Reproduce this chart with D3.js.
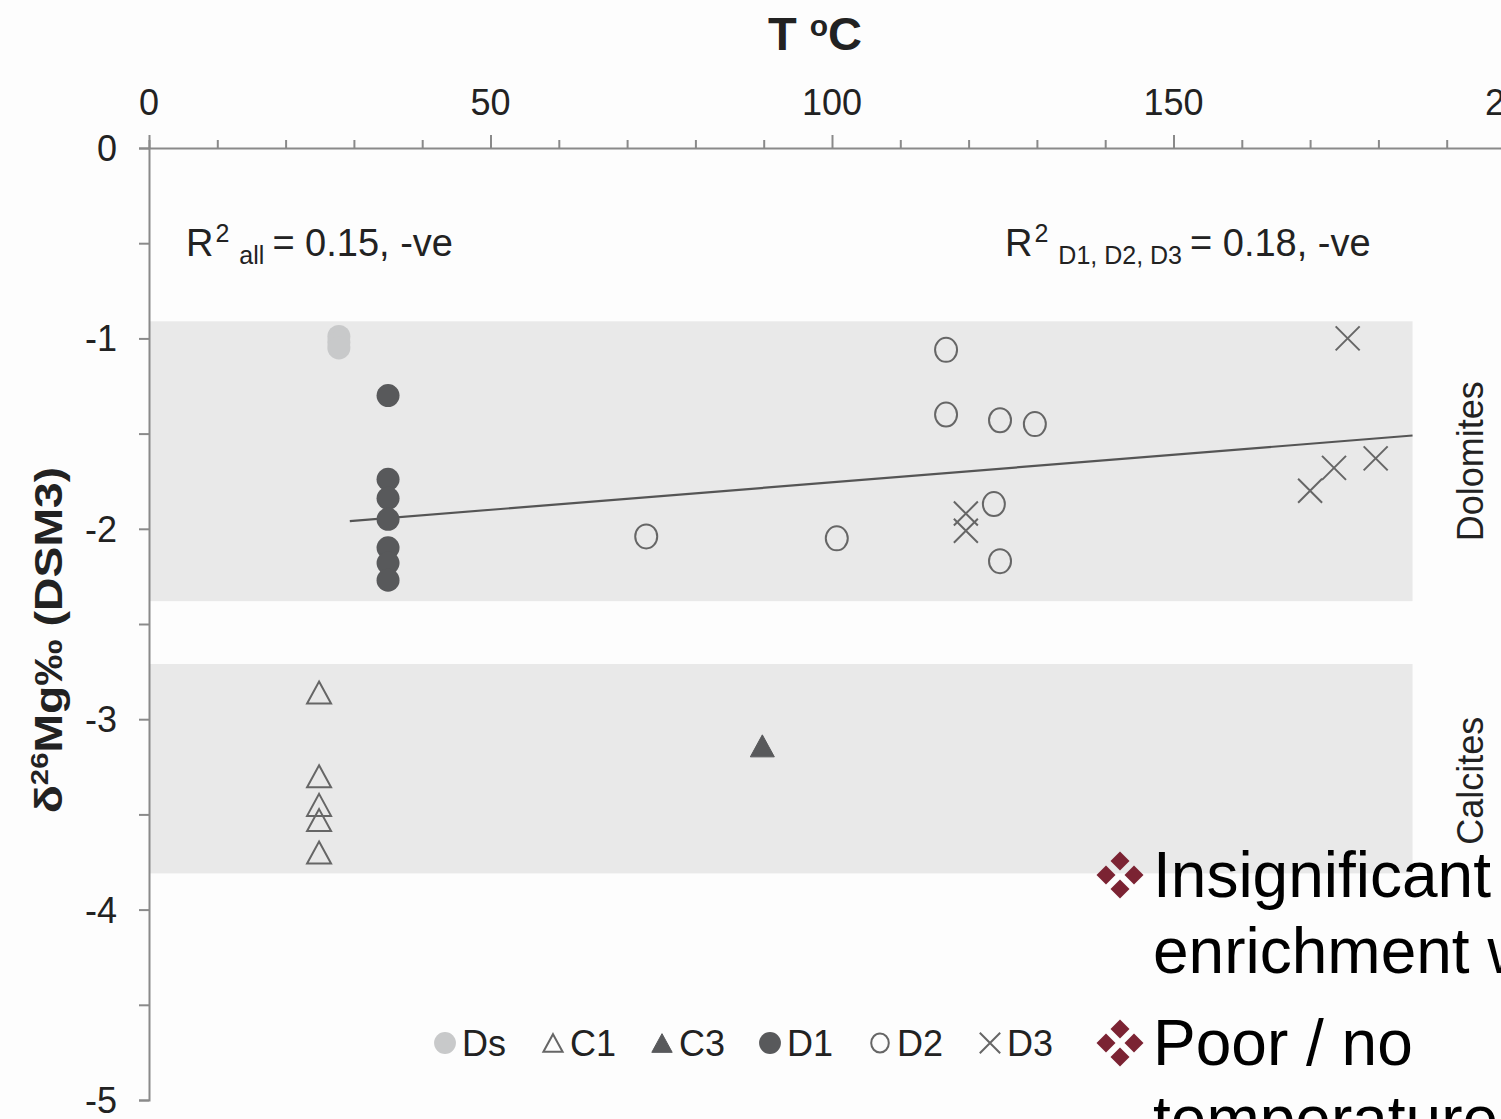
<!DOCTYPE html>
<html lang="en">
<head>
<meta charset="UTF-8">
<title>d26Mg vs temperature</title>
<script src="https://d3js.org/d3.v7.min.js"></script>
<style>
  html, body { margin: 0; padding: 0; background: #fdfdfd; overflow: hidden; }
  svg { display: block; font-family: "Liberation Sans", Arial, sans-serif; }
</style>
</head>
<body>
<script>
// values: [T (°C), d26Mg (permil)]
const dsPoints = [[27.8, -0.99], [27.8, -1.02], [27.8, -1.05]];
const c1Points = [[24.9, -2.86], [24.9, -3.30], [24.9, -3.45], [24.9, -3.53], [24.9, -3.70]];
const c3Points = [[89.8, -3.14]];
const d1Points = [[35, -1.30], [35, -1.74], [35, -1.84], [35, -1.95], [35, -2.10], [35, -2.18], [35, -2.27]];
const d2Points = [[72.8, -2.04], [100.7, -2.05], [116.7, -1.06], [116.7, -1.40], [124.6, -1.43],
                  [129.7, -1.45], [123.7, -1.87], [124.6, -2.17]];
const d3Points = [[175.5, -1.00], [119.6, -1.92], [119.6, -2.01], [170.0, -1.80], [173.5, -1.68], [179.6, -1.63]];

const trendLine = [[29.4, -1.96], [185, -1.51]];

// shaded mineral fields: [T from, T to, top, bottom]
const bandNames = ["Dolomites", "Calcites"];
const bandExtents = [[0, 185, -0.91, -2.38], [0, 185, -2.71, -3.81]];

const legendNames = ["Ds", "C1", "C3", "D1", "D2", "D3"];
const xTicks = [0, 50, 100, 150, 200];
const yTicks = [0, -1, -2, -3, -4, -5];

const W = 1501, H = 1119;
const x = d3.scaleLinear().domain([0, 200]).range([149, 1515]);
const y = d3.scaleLinear().domain([0, -5]).range([148, 1100]);

const svg = d3.select("body").append("svg").attr("width", W).attr("height", H);

const DARK = "#58595b", LIGHT = "#c8c9ca", LINE = "#666";

// bands
svg.append("g").selectAll("rect").data(bandExtents).join("rect")
  .attr("x", d => x(d[0]) + 1)
  .attr("y", d => y(d[2]))
  .attr("width", d => x(d[1]) - x(d[0]) - 1)
  .attr("height", d => y(d[3]) - y(d[2]))
  .attr("fill", "#e9e9e9");

// axes
const xAxis = svg.append("g").attr("transform", `translate(0,${y(0)})`)
  .call(d3.axisTop(x).tickValues(d3.range(0, 201, 10)).tickSize(8).tickFormat(""));
xAxis.selectAll(".tick line").filter(d => d % 50 === 0).attr("y2", -13);
xAxis.selectAll("line, path").attr("stroke", "#8a8a8a").attr("stroke-width", 2);
svg.append("g").selectAll("text").data(xTicks).join("text")
  .attr("x", d => x(d)).attr("y", 115)
  .attr("text-anchor", "middle").attr("font-size", 36).attr("fill", "#222")
  .text(d => d);

const yAxis = svg.append("g").attr("transform", `translate(${x(0)},0)`)
  .call(d3.axisLeft(y).tickValues(d3.range(0, -5.01, -0.5)).tickSize(10).tickFormat(""));
yAxis.selectAll("line, path").attr("stroke", "#8a8a8a").attr("stroke-width", 2);
svg.append("g").selectAll("text").data(yTicks).join("text")
  .attr("x", 117).attr("y", d => y(d) + 13)
  .attr("text-anchor", "end").attr("font-size", 36).attr("fill", "#222")
  .text(d => String(d));

// axis titles
const xt = svg.append("text").attr("x", 815).attr("y", 50).attr("text-anchor", "middle")
  .attr("font-size", 47).attr("font-weight", "bold").attr("fill", "#222");
xt.append("tspan").text("T ");
xt.append("tspan").attr("font-size", 30).attr("dy", -14).text("o");
xt.append("tspan").attr("dy", 14).text("C");

const yt = svg.append("text").attr("transform", "translate(62,640) rotate(-90) scale(1.22,1)")
  .attr("text-anchor", "middle").attr("font-size", 38).attr("font-weight", "bold").attr("fill", "#222");
yt.append("tspan").text("δ");
yt.append("tspan").attr("font-size", 24).attr("dy", -14).text("26");
yt.append("tspan").attr("dy", 14).text("Mg‰ (DSM3)");

// band labels
const bandLabelShift = [0, 12];
svg.append("g").selectAll("text").data(bandExtents).join("text")
  .attr("transform", (d, i) => `translate(1483,${(y(d[2]) + y(d[3])) / 2 + bandLabelShift[i]}) rotate(-90)`)
  .attr("text-anchor", "middle").attr("font-size", 36).attr("fill", "#222")
  .text((d, i) => bandNames[i]);

// R2 annotations
function r2(xPos, sub, rest) {
  const t = svg.append("text").attr("x", xPos).attr("y", 256).attr("font-size", 38).attr("fill", "#222");
  t.append("tspan").text("R");
  t.append("tspan").attr("font-size", 25).attr("dx", 2).attr("dy", -14).text("2");
  t.append("tspan").attr("font-size", 25).attr("dx", 10).attr("dy", 22).text(sub);
  t.append("tspan").attr("dx", 8).attr("dy", -8).text(rest);
}
r2(186, "all", "= 0.15, -ve");
r2(1005, "D1, D2, D3", "= 0.18, -ve");

// trend line
svg.append("path").datum(trendLine)
  .attr("d", d3.line().x(d => x(d[0])).y(d => y(d[1])))
  .attr("stroke", "#555").attr("stroke-width", 2.2).attr("fill", "none");

// marker drawing
function marker(g, name, s) {
  if (name === "Ds" || name === "D1") {
    g.append("circle").attr("r", 11.5 * s).attr("fill", name === "Ds" ? LIGHT : DARK);
  } else if (name === "D2") {
    g.append("ellipse").attr("rx", 11 * s).attr("ry", 12 * s)
      .attr("fill", "none").attr("stroke", LINE).attr("stroke-width", 2);
  } else if (name === "C1" || name === "C3") {
    const tri = `M0,${-11 * s}L${12 * s},${11 * s}L${-12 * s},${11 * s}Z`;
    g.append("path").attr("d", tri)
      .attr("fill", name === "C3" ? DARK : "none")
      .attr("stroke", name === "C3" ? DARK : LINE).attr("stroke-width", name === "C3" ? 1 : 2);
  } else if (name === "D3") {
    const a = 12 * s;
    g.append("path").attr("d", `M${-a},${-a}L${a},${a}M${-a},${a}L${a},${-a}`)
      .attr("stroke", LINE).attr("stroke-width", 2);
  }
}

const seriesData = { Ds: dsPoints, C1: c1Points, C3: c3Points, D1: d1Points, D2: d2Points, D3: d3Points };
legendNames.forEach(name => {
  svg.append("g").selectAll("g").data(seriesData[name]).join("g")
    .attr("transform", d => `translate(${x(d[0])},${y(d[1])})`)
    .each(function () { marker(d3.select(this), name, 1); });
});

// legend
const legendX = [445, 553, 662, 770, 880, 990];
const legendScale = [0.95, 0.8, 0.85, 0.95, 0.8, 0.85];
legendNames.forEach((name, i) => {
  const g = svg.append("g").attr("transform", `translate(${legendX[i]},1043)`);
  marker(g, name, legendScale[i]);
  g.append("text").attr("x", 17).attr("y", 13).attr("font-size", 36).attr("fill", "#222").text(name);
});

// slide bullets laid over the chart
const bulletLines = [
  { text: "Insignificant", yb: 897, bullet: true },
  { text: "enrichment with", yb: 973, bullet: false },
  { text: "Poor / no", yb: 1065, bullet: true },
  { text: "temperature", yb: 1141, bullet: false }
];
bulletLines.forEach(l => {
  svg.append("text").attr("x", 1153).attr("y", l.yb).attr("font-size", 64).attr("fill", "#000").text(l.text);
  if (l.bullet) {
    const g = svg.append("g").attr("transform", `translate(1120,${l.yb - 22})`).attr("fill", "#7b2333");
    [[0, -14], [14, 0], [0, 14], [-14, 0]].forEach(c => {
      g.append("path").attr("d", `M${c[0]},${c[1] - 9.5}L${c[0] + 9.5},${c[1]}L${c[0]},${c[1] + 9.5}L${c[0] - 9.5},${c[1]}Z`);
    });
  }
});
</script>
</body>
</html>
